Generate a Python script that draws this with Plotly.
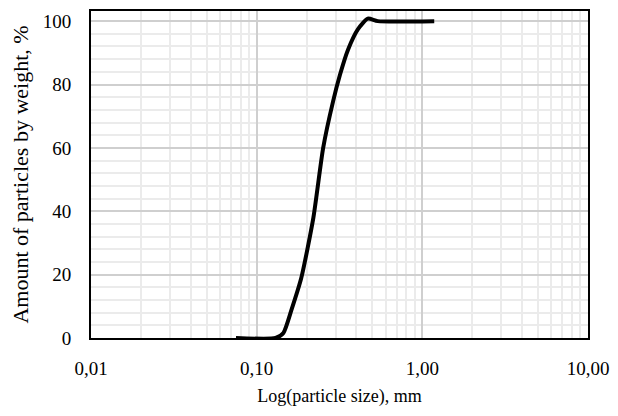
import plotly.graph_objects as go

particle_size_mm = [0.075, 0.13, 0.145, 0.162, 0.186, 0.22, 0.252, 0.289, 0.318, 0.356, 0.409, 0.469, 0.538, 1.18]
passing_pct = [0, 0, 1.6, 8.8, 19, 38, 60, 74.6, 83, 91, 97.5, 100.8, 100, 100]

font_family = "Liberation Serif, Times New Roman, serif"

fig = go.Figure()
fig.add_trace(go.Scatter(
    x=particle_size_mm, y=passing_pct, mode="lines",
    line=dict(color="black", width=4, shape="spline", smoothing=0.6),
    showlegend=False,
))

fig.update_layout(
    width=618, height=416,
    margin=dict(l=91, r=25, t=9, b=78),
    paper_bgcolor="white", plot_bgcolor="white",
    separators=",.",
    font=dict(family=font_family, size=19, color="black"),
)
fig.update_xaxes(
    type="log", range=[-2, 1], dtick=1, tickformat=".2f",
    showline=True, linecolor="black", linewidth=2, mirror=True,
    showgrid=True, gridcolor="#cfcfcf", gridwidth=2,
    minor=dict(dtick="D1", showgrid=True, gridcolor="#ebebeb", gridwidth=2),
    ticks="", ticklabelstandoff=12, zeroline=False,
    title=dict(text="Log(particle size), mm", font=dict(size=18), standoff=12),
)
fig.update_yaxes(
    range=[0, 103.2], tickvals=[0, 20, 40, 60, 80, 100],
    showline=True, linecolor="black", linewidth=2, mirror=True,
    showgrid=True, gridcolor="#cfcfcf", gridwidth=2,
    minor=dict(dtick=4, showgrid=True, gridcolor="#ebebeb", gridwidth=2),
    ticks="", ticklabelstandoff=14, zeroline=False,
    title=dict(text="Amount of particles by weight, %", font=dict(size=22), standoff=8),
)

fig.write_html("out.html")
